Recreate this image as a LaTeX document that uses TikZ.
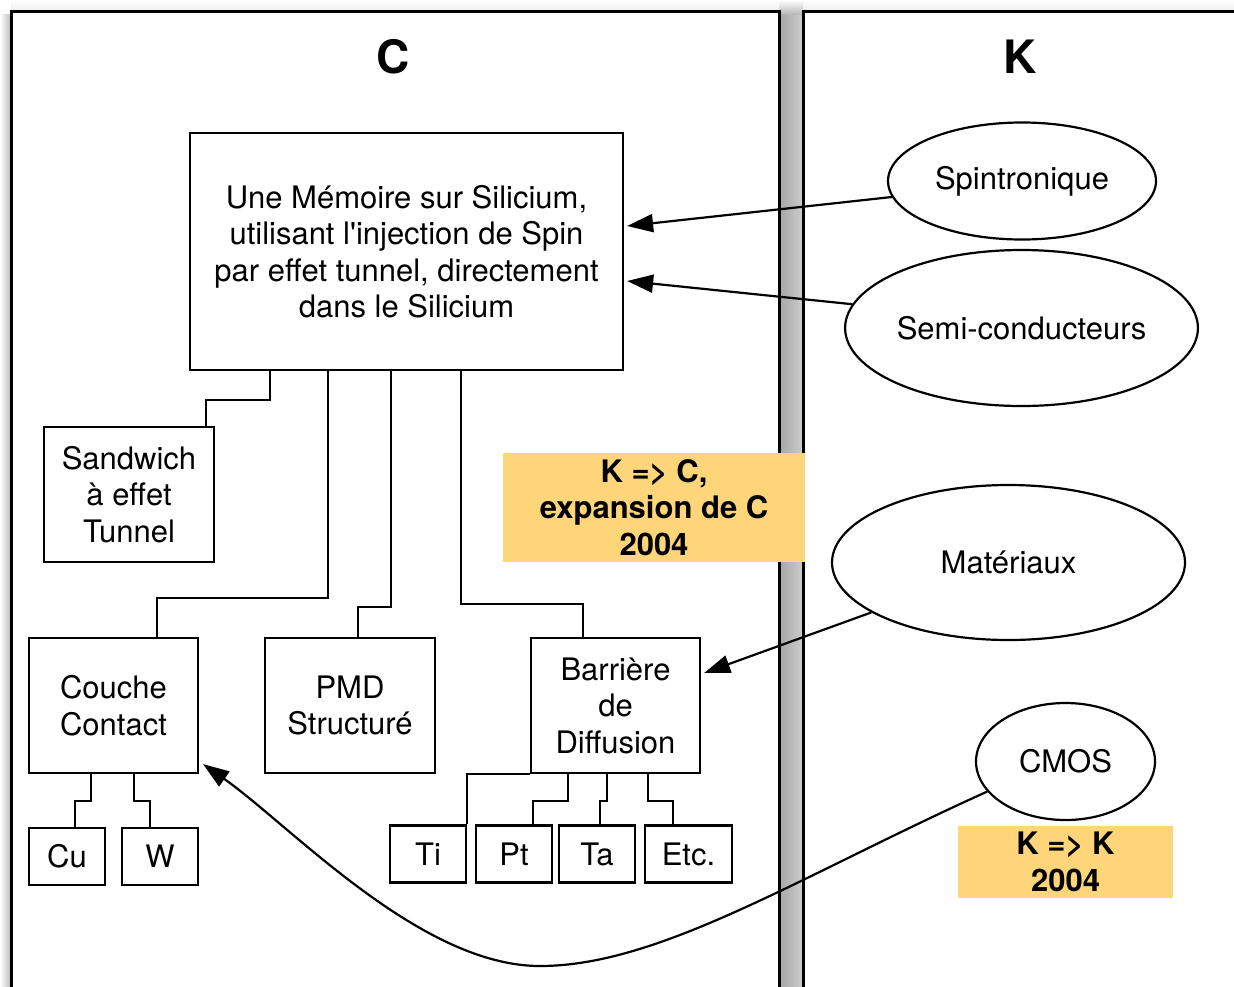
\documentclass[tikz,border=0pt]{standalone}
\usepackage{fontspec}
\setmainfont{TeX Gyre Heros}[Ligatures=TeXOff]
\usepackage{xcolor}
\usepackage{tikz}
\usetikzlibrary{arrows.meta,positioning,shapes.geometric}
\definecolor{notebg}{RGB}{255,213,122}

\begin{document}
\begin{tikzpicture}[x=0.5pt,y=-0.5pt,>={Triangle[length=13pt,width=9pt]},
  box/.style={rectangle,draw,line width=1.1pt,align=center,inner sep=0pt,font=\fontsize{15.5}{18.25}\selectfont},
  leaf/.style={box,minimum width=38pt,minimum height=28.5pt},
  blob/.style={ellipse,draw,line width=1.1pt,inner sep=0pt,font=\fontsize{15.5}{18.25}\selectfont},
  note/.style={rectangle,fill=notebg,align=center,inner sep=0pt,font=\fontsize{15.5}{18.25}\selectfont\bfseries},
  link/.style={line width=1.1pt},
  infl/.style={->,line width=1.1pt}]
\clip (0,0) rectangle (1234,986);
\fill[white] (0,0) rectangle (1234,986);
% panel shadows
\shade[left color=white,right color=gray!55] (0,14) rectangle (11,986);
\shade[top color=white,bottom color=gray!15] (11,0) rectangle (1234,11);
\shade[left color=gray!70,right color=gray!40] (779,14) rectangle (803,986);
\shade[top color=white,bottom color=gray!55] (779,0) rectangle (803,14);
% the two panels
\draw[line width=1.5pt,fill=white] (11,11) rectangle (779,1010);
\draw[line width=1.5pt,fill=white] (803,11) rectangle (1260,1010);
\node[font=\fontsize{23}{27}\selectfont\bfseries] (ctitle) at (393,57) {C};
\node[font=\fontsize{23}{27}\selectfont\bfseries] (ktitle) at (1020,57) {K};

% C side
\node[box,minimum width=216.5pt,minimum height=118.5pt] (main) at (406.5,251.5)
  {Une Mémoire sur Silicium,\\utilisant l'injection de Spin\\par effet tunnel, directement\\dans le Silicium};
\node[box,minimum width=85pt,minimum height=67.5pt] (sandwich) at (129,494.5) {Sandwich\\à effet\\Tunnel};
\node[box,minimum width=84.5pt,minimum height=67.5pt] (couche) at (113.5,705.5) {Couche\\Contact};
\node[box,minimum width=85pt,minimum height=67.5pt] (pmd) at (350,705.5) {PMD\\Structuré};
\node[box,minimum width=84.5pt,minimum height=67.5pt] (barr) at (615.5,705.5) {Barrière\\de\\Diffusion};
\node[leaf] (cu) at (67,856.5) {Cu};
\node[leaf] (w) at (160,856.5) {W};
\node[leaf] (ti) at (428,854) {Ti};
\node[leaf] (pt) at (514,854) {Pt};
\node[leaf] (ta) at (597,854) {Ta};
\node[leaf,minimum width=43.5pt] (etc) at (688.5,854) {Etc.};

\draw[link] ([xshift=40.5pt]main.south west) -- ++(0,29) -| ([xshift=81.5pt]sandwich.north west);
\draw[link] ([xshift=69.5pt]main.south west) -- ++(0,227) -| ([xshift=64.5pt]couche.north west);
\draw[link] ([xshift=101pt]main.south west) -- ++(0,236) -| ([xshift=47pt]pmd.north west);
\draw[link] ([xshift=136pt]main.south west) -- ++(0,233) -| ([xshift=26.5pt]barr.north west);
\draw[link] ([xshift=31.5pt]couche.south west) -- ++(0,27) -| ([xshift=23.5pt]cu.north west);
\draw[link] ([xshift=53pt]couche.south west) -- ++(0,27) -| ([xshift=14.5pt]w.north west);
\draw[link] (barr.south west) -| (ti.north east);
\draw[link] ([xshift=19pt]barr.south west) -- ++(0,27) -| ([xshift=29pt]pt.north west);
\draw[link] ([xshift=38.5pt]barr.south west) -- ++(0,27) -| ([xshift=21pt]ta.north west);
\draw[link] ([xshift=59pt]barr.south west) -- ++(0,27) -| ([xshift=14.5pt]etc.north west);

\node[note,minimum width=151pt,minimum height=54.5pt] (kc) at (654,507.5) {K => C,\\expansion de C\\2004};

% K side
\node[blob,minimum width=134pt,minimum height=58.5pt] (spin) at (1022,181) {Spintronique};
\node[blob,minimum width=175.5pt,minimum height=78pt] (semi) at (1021.5,328) {Semi-conducteurs};
\node[blob,minimum width=176.5pt,minimum height=77.5pt] (mat) at (1008.5,562.5) {Matériaux};
\node[blob,minimum width=89.5pt,minimum height=58.5pt] (cmos) at (1065.5,761.5) {CMOS};
\node[note,minimum width=107.5pt,minimum height=36pt] (kk) at (1065.5,862) {K => K\\2004};

\draw[infl] (spin.187) -- ([xshift=1.5pt,yshift=12.75pt]main.east);
\draw[infl] (semi.172.6) -- ([xshift=1.5pt,yshift=-14.75pt]main.east);
\draw[infl] (mat.200.4) -- ([xshift=1.5pt,yshift=16.25pt]barr.east);
\draw[infl] (cmos.201) .. controls (800,876) and (660,966) .. (540,966)
  .. controls (420,966) and (290,825) .. ([xshift=2pt,yshift=5pt]couche.south east);
\end{tikzpicture}
\end{document}
